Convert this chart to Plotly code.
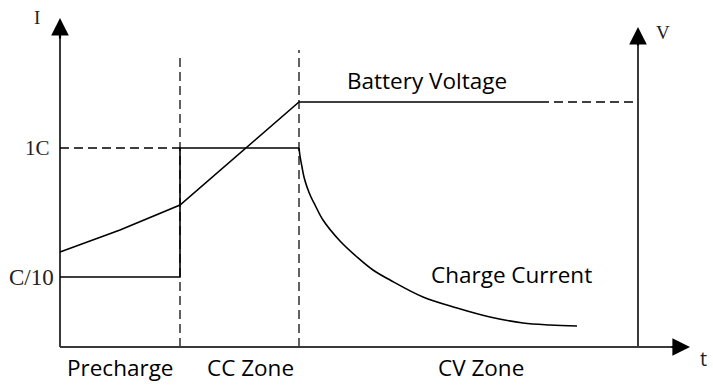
import plotly.graph_objects as go

# Data coordinates: t (time units) along x, level along y (0 = time axis)
t_pre_end = 120
t_cc_end = 239
t_axis_v = 578
t_axis_end = 630
y_axis_top = 329
yv_axis_top = 320

# Current levels
level_c10 = 70
level_1c = 199

# Charge current profile: precharge + constant current (step)
step_t = [0, 120, 120, 239]
step_i = [70, 70, 199, 199]
# Constant-voltage decay
decay_t = [239, 240, 242, 244, 247, 251, 255, 263, 280, 297, 313, 330, 363, 397, 430, 463, 490, 517]
decay_i = [199, 191, 180, 170, 160, 150, 142, 127, 106, 90, 77, 67, 50, 39, 30, 24, 22, 21]

# Battery voltage profile
voltage_t = [0, 60, 120, 239, 480]
voltage_v = [95, 117, 142, 245, 245]
voltage_dash_t = [480, 578]
voltage_dash_v = [245, 245]

# Labels
phase_labels = ["Precharge", "CC Zone", "CV Zone"]
phase_centers = [60, 190, 421]
tick_labels = ["1C", "C/10"]
tick_values = [level_1c, level_c10]

AX = "#3a3a3a"
fig = go.Figure()

def line(xs, ys, color=AX, width=2, dash=None, shape="linear"):
    fig.add_trace(go.Scatter(x=xs, y=ys, mode="lines",
                             line=dict(color=color, width=width, dash=dash, shape=shape),
                             hoverinfo="skip", showlegend=False))

# axes lines
line([0, 0], [0, y_axis_top - 20])
line([0, t_axis_end - 18], [0, 0])
line([t_axis_v, t_axis_v], [0, yv_axis_top - 18])

# dashed guides
line([t_pre_end, t_pre_end], [0, 294], width=1.6, dash="9px,5px")
line([t_cc_end, t_cc_end], [0, 297], width=1.6, dash="9px,5px")
line([0, t_pre_end], [level_1c, level_1c], color="black", width=1.5, dash="9px,5px")
line(voltage_dash_t, voltage_dash_v, color="black", width=1.5, dash="9px,5px")

# curves
line(step_t, step_i, color="black", width=1.6)
line(decay_t, decay_i, color="black", width=1.6, shape="spline")
line(voltage_t, voltage_v, color="black", width=1.6)

# arrowheads
def arrow(x0, y0, x1, y1):
    fig.add_annotation(x=x1, y=y1, ax=x0, ay=y0, xref="x", yref="y", axref="x", ayref="y",
                       text="", showarrow=True, arrowhead=2, arrowsize=1.6, arrowwidth=2.2, arrowcolor="black")

arrow(0, y_axis_top - 22, 0, y_axis_top)
arrow(t_axis_end - 20, 0, t_axis_end, 0)
arrow(t_axis_v, yv_axis_top - 20, t_axis_v, yv_axis_top)

serif = "Liberation Serif, DejaVu Serif, serif"
sans = "Open Sans, Noto Sans, sans-serif"

fig.add_annotation(x=-8, y=level_1c, text=tick_labels[0], showarrow=False, xanchor="right", yanchor="middle",
                   font=dict(family=serif, size=21, color="#222"))
fig.add_annotation(x=-4, y=level_c10, text=tick_labels[1], showarrow=False, xanchor="right", yanchor="middle",
                   font=dict(family=serif, size=23, color="#222"))
fig.add_annotation(x=-23, y=330, text="I", showarrow=False, font=dict(family=serif, size=19, color="#222"))
fig.add_annotation(x=603, y=315, text="V", showarrow=False, font=dict(family=serif, size=19, color="#222"))
fig.add_annotation(x=643, y=-11, text="t", showarrow=False, font=dict(family=sans, size=20, color="#222"))

for lab, c in zip(phase_labels, phase_centers):
    fig.add_annotation(x=c, y=-20, text=lab, showarrow=False, font=dict(family=sans, size=22.5, color="black"))
fig.add_annotation(x=367, y=267, text="Battery Voltage", showarrow=False, font=dict(family=sans, size=22.5, color="black"))
fig.add_annotation(x=451, y=73, text="Charge Current", showarrow=False, font=dict(family=sans, size=22.5, color="black"))

fig.update_layout(
    width=713, height=390, margin=dict(l=0, r=0, t=0, b=0),
    paper_bgcolor="white", plot_bgcolor="white",
    xaxis=dict(range=[-60, 653], visible=False, fixedrange=True),
    yaxis=dict(range=[-43, 347], visible=False, fixedrange=True),
)
fig.write_html("out.html", config={"displayModeBar": False},
               post_script="document.body.style.margin='0';document.body.style.padding='0';")
